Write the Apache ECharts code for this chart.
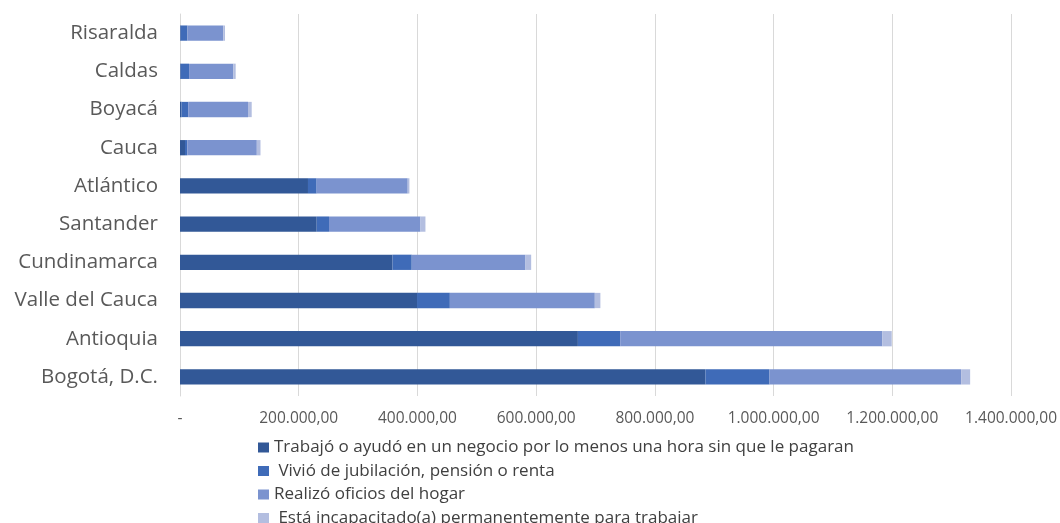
<!DOCTYPE html>
<html>
<head>
<meta charset="utf-8">
<script src="https://cdn.jsdelivr.net/npm/echarts@6/dist/echarts.min.js"></script>
<style>
  html, body { margin: 0; padding: 0; background: #fff; }
  #chart_main { width: 1060px; height: 523px; }
</style>
</head>
<body>
<div id="chart_main"></div>
<script>
// departamentos, de abajo hacia arriba
const departamentos = [
  "Bogotá, D.C.", "Antioquia", "Valle del Cauca", "Cundinamarca", "Santander",
  "Atlántico", "Cauca", "Boyacá", "Caldas", "Risaralda"
];

const seriesNames = [
  "Trabajó o ayudó en un negocio por lo menos una hora sin que le pagaran",
  " Vivió de jubilación, pensión o renta",
  "Realizó oficios del hogar",
  " Está incapacitado(a) permanentemente para trabajar"
];

const trabajo = [885200, 670300, 399300, 358000, 230300, 215600, 8400, 2500, 1000, 1000];
const jubilacion = [107900, 71300, 55300, 32400, 20700, 14600, 3900, 11300, 14300, 11400];
const hogar = [322900, 441400, 244200, 191600, 154100, 153400, 117100, 100800, 74500, 60500];
const incapacitado = [15100, 16000, 9400, 9600, 8400, 2900, 6200, 6200, 4000, 2900];

const colors = ["#325897", "#3F6BB8", "#7B93CF", "#B3BEE0"];

function formatMiles(v) {
  if (v === 0) return "-";
  let s = Math.round(v).toString().replace(/\B(?=(\d{3})+(?!\d))/g, ".");
  return s + ",00";
}

const valores = [trabajo, jubilacion, hogar, incapacitado];

const option_main = {
  animation: false,
  color: colors,
  textStyle: { fontFamily: "Open Sans" },
  grid: { left: 180, right: 47, top: 14, bottom: 127 },
  legend: {
    orient: "vertical",
    left: 253,
    top: 432,
    height: 200,
    icon: "rect",
    itemWidth: 11,
    itemHeight: 10,
    itemGap: 2.5,
    textStyle: { color: "#404040", fontSize: 17, lineHeight: 21, fontFamily: "Open Sans" },
    data: seriesNames
  },
  xAxis: {
    type: "value",
    min: 0,
    max: 1400000,
    interval: 200000,
    axisLine: { show: false },
    axisTick: { show: false },
    splitLine: { lineStyle: { color: "#d9d9d9", width: 1 } },
    axisLabel: {
      color: "#595959",
      fontSize: 15.5,
      margin: 15,
      formatter: formatMiles
    }
  },
  yAxis: {
    type: "category",
    data: departamentos,
    axisLine: { show: true, lineStyle: { color: "#d9d9d9", width: 1 } },
    axisTick: { show: false },
    axisLabel: { color: "#595959", fontSize: 20.5, margin: 22 }
  },
  series: seriesNames.map((name, i) => ({
    name: name,
    type: "bar",
    stack: "total",
    barCategoryGap: "60%",
    itemStyle: { color: colors[i] },
    data: valores[i]
  }))
};

let chart_main = echarts.init(document.getElementById("chart_main"));
chart_main.setOption(option_main);
</script>
</body>
</html>
